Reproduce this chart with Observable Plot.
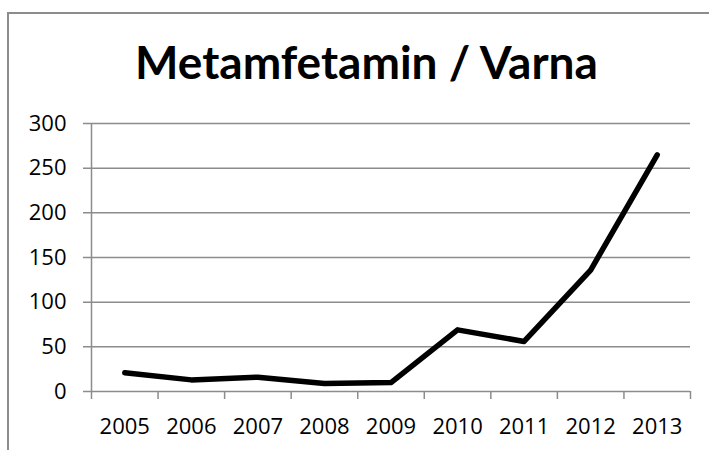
<!DOCTYPE html>
<html>
<head>
<meta charset="utf-8">
<script src="https://cdn.jsdelivr.net/npm/d3@7"></script>
<script src="https://cdn.jsdelivr.net/npm/@observablehq/plot@0.6"></script>
<style>
  html, body { margin: 0; padding: 0; background: #fff; }
  #wrap { position: relative; width: 709px; height: 450px; overflow: hidden; background: #fff; }
  #frame { position: absolute; left: 7px; top: 12px; width: 720px; height: 460px; border: 2px solid #8c8c8c; box-sizing: border-box; }
  #title { position: absolute; left: 12px; top: 0; width: 709px; height: 90px; text-align: center;
           font-family: Lato, "Open Sans", sans-serif; font-weight: 700; font-size: 46px; line-height: 124px; color: #000; z-index: 2; }
  #chart { position: absolute; left: 0; top: 90px; }
  #chart svg { overflow: visible; }
  #chart svg text { font-size: 22px; }
</style>
</head>
<body>
<div id="wrap">
  <div id="frame"></div>
  <div id="title">Metamfetamin / Varna</div>
  <div id="chart"></div>
</div>
<script>
const title = "Metamfetamin / Varna";
const years = [2005, 2006, 2007, 2008, 2009, 2010, 2011, 2012, 2013];
const values = [21, 13, 16, 9, 10, 69, 56, 136, 265];
const yTicks = [0, 50, 100, 150, 200, 250, 300];

const data = years.map((y, i) => ({year: y, value: values[i]}));
const boundaries = years.map(y => y - 0.5).concat([years[years.length - 1] + 0.5]);

const plot = Plot.plot({
  width: 709,
  height: 360,
  marginTop: 33,
  marginBottom: 59,
  marginLeft: 91,
  marginRight: 19,
  style: {fontFamily: "Open Sans, sans-serif", fontSize: "22px", color: "#000", background: "transparent"},
  x: {type: "linear", domain: [years[0] - 0.5, years[years.length - 1] + 0.5], label: null},
  y: {domain: [0, 300], label: null},
  marks: [
    Plot.gridY(yTicks, {stroke: "#8c8c8c", strokeOpacity: 1, strokeWidth: 1.5, insetLeft: -8}),
    Plot.ruleX([boundaries[0]], {y1: 0, y2: 300, stroke: "#8c8c8c", strokeWidth: 1.5}),
    Plot.axisX(boundaries, {tickSize: 8, tickFormat: () => "", stroke: "#8c8c8c", strokeWidth: 1.5, label: null}),
    Plot.axisX(years, {tickSize: 0, tickPadding: 27, tickFormat: d => String(d), fill: "#000", fontSize: 22, label: null}),
    Plot.axisY(yTicks, {tickSize: 0, tickPadding: 25, fill: "#000", fontSize: 22, label: null}),
    Plot.line(data, {x: "year", y: "value", stroke: "#000", strokeWidth: 5.5, strokeLinejoin: "round", strokeLinecap: "round"})
  ]
});
document.getElementById("chart").appendChild(plot);
</script>
</body>
</html>
